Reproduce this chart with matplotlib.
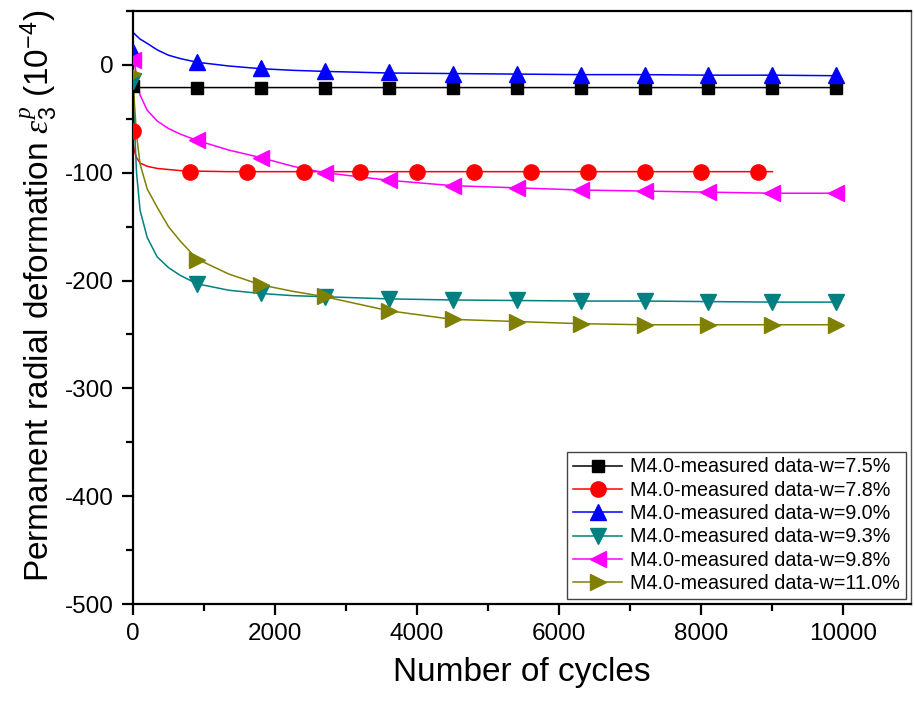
import numpy as np
import matplotlib
matplotlib.use('Agg')
import matplotlib.pyplot as plt
from matplotlib.lines import Line2D
from matplotlib.ticker import MultipleLocator

plt.rcParams['font.family'] = ['Liberation Sans', 'DejaVu Sans']
plt.rcParams['mathtext.fontset'] = 'custom'
plt.rcParams['mathtext.it'] = 'Liberation Serif:italic'
plt.rcParams['mathtext.rm'] = 'Liberation Sans'
plt.rcParams['axes.unicode_minus'] = False

# fitted curves
curve_x = [0, 20, 50, 100, 200, 340, 500, 660, 900, 1350, 1800, 2250, 2700,
           3600, 4500, 5400, 6300, 7200, 8100, 9000, 9900]
curve_75 = [-20, -21, -21, -21, -21, -21, -21, -21, -21, -21, -21, -21, -21,
            -21, -21, -21, -21, -21, -21, -21, -21]
curve_78 = [-72, -80, -86, -91, -94, -96, -97, -98, -98.5, -99, -99, -99, -99,
            -99, -99, -99, -99, -99, -99, -99, np.nan]
curve_90 = [30, 29, 27, 24, 20, 14, 9, 6, 2.5, -1, -3.5, -5, -6,
            -7.5, -8, -8.5, -9, -9, -9.5, -9.5, -10]
curve_93 = [-15, -55, -100, -135, -160, -178, -188, -195, -203, -209, -212, -214, -215,
            -217, -218, -218.5, -219, -219, -219.5, -220, -220]
curve_98 = [8, 2, -10, -28, -42, -52, -59, -64, -70, -79, -86, -94, -100,
            -107, -112, -114, -116, -117, -118, -119, -119]
curve_110 = [-8, -35, -65, -92, -115, -132, -150, -163, -180, -194, -204, -210, -215,
             -228, -236, -238, -240, -241, -241, -241, -241]

# measured points
meas_x = [0, 900, 1800, 2700, 3600, 4500, 5400, 6300, 7200, 8100, 9000, 9900]
meas_x_78 = [0, 800, 1600, 2400, 3200, 4000, 4800, 5600, 6400, 7200, 8000, 8800]
meas_75 = [-20, -21, -21, -21, -21, -21, -21, -21, -21, -21, -21, -21]
meas_78 = [-61, -99, -99, -99, -99, -99, -99, -99, -99, -99, -99, -99]
meas_90 = [12, 3, -3, -6, -7, -8, -8, -9, -9, -9, -9, -9]
meas_93 = [-15, -203, -212, -215, -217, -218, -218, -219, -219, -220, -220, -220]
meas_98 = [5, -70, -86, -100, -107, -112, -114, -116, -117, -118, -119, -119]
meas_110 = [-8, -181, -204, -214, -228, -236, -238, -240, -241, -241, -241, -241]

labels = ['M4.0-measured data-w=7.5%', 'M4.0-measured data-w=7.8%',
          'M4.0-measured data-w=9.0%', 'M4.0-measured data-w=9.3%',
          'M4.0-measured data-w=9.8%', 'M4.0-measured data-w=11.0%']

series = [
    (curve_75, meas_x, meas_75, 'black', 's', 9),
    (curve_78, meas_x_78, meas_78, '#ff0000', 'o', 11),
    (curve_90, meas_x, meas_90, '#0000ff', '^', 11),
    (curve_93, meas_x, meas_93, '#008080', 'v', 11),
    (curve_98, meas_x, meas_98, '#ff00ff', '<', 11),
    (curve_110, meas_x, meas_110, '#808000', '>', 11),
]

fig = plt.figure(figsize=(9.14, 7.02), dpi=100)
ax = fig.add_axes([0.1455, 0.1396, 0.8512, 0.8447])

handles = []
for (cy, mx, my, col, mk, ms), lab in zip(series, labels):
    ax.plot(curve_x, cy, color=col, lw=1.1, zorder=2)
    ax.plot(mx, my, ls='none', marker=mk, color=col, ms=ms, mec=col, zorder=3)
    handles.append(Line2D([], [], color=col, lw=1.1, marker=mk, ms=ms, mec=col))

ax.set_xlim(0, 10950)
ax.set_ylim(-500, 50)
ax.xaxis.set_major_locator(MultipleLocator(2000))
ax.xaxis.set_minor_locator(MultipleLocator(1000))
ax.yaxis.set_major_locator(MultipleLocator(100))
ax.yaxis.set_minor_locator(MultipleLocator(50))
ax.tick_params(which='major', direction='out', length=8, width=1.6, labelsize=17.5, pad=6)
ax.tick_params(which='minor', direction='out', length=5, width=1.6)
for sp in ax.spines.values():
    sp.set_linewidth(1.6)
ax.spines['right'].set_linewidth(1.0)
ax.spines['right'].set_color('#555555')

ax.set_xlabel('Number of cycles', fontsize=24, labelpad=8)
ax.set_ylabel(r'Permanent radial deformation $\varepsilon_3^p$ (10$^{-4}$)', fontsize=24, labelpad=4)
ax.yaxis.label.set_y(0.52)

leg = ax.legend(handles, labels, loc='lower right', fontsize=14.2, numpoints=1,
                handlelength=2.5, labelspacing=0.22, borderpad=0.3, handletextpad=0.4,
                borderaxespad=0.25, fancybox=False, framealpha=1)
leg.get_frame().set_edgecolor('#444444')
leg.get_frame().set_linewidth(1.0)

fig.savefig('out.png', dpi=100)
